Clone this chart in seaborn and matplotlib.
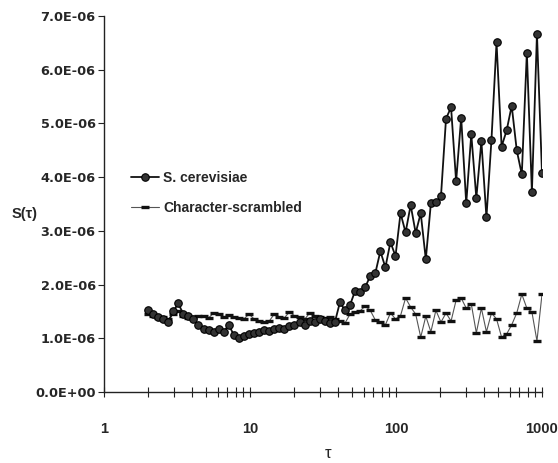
import matplotlib
matplotlib.use("Agg")
import matplotlib.pyplot as plt
import numpy as np
import pandas as pd
import seaborn as sns
from matplotlib.ticker import FixedLocator, FuncFormatter, NullFormatter

# ---------------- data ----------------
tau = [2.000, 2.166, 2.346, 2.540, 2.751, 2.979, 3.226, 3.494, 3.784, 4.098,
       4.437, 4.805, 5.204, 5.636, 6.103, 6.609, 7.157, 7.751, 8.394, 9.090,
       9.842, 10.66, 11.54, 12.50, 13.54, 14.66, 15.88, 17.19, 18.62, 20.16,
       21.83, 23.64, 25.60, 27.73, 30.03, 32.52, 35.21, 38.13, 41.30, 44.72,
       48.43, 52.45, 56.80, 61.51, 66.61, 72.14, 78.12, 84.60, 91.61, 99.21,
       107.4, 116.3, 126.0, 136.4, 147.7, 160.0, 173.3, 187.6, 203.2, 220.1,
       238.3, 258.1, 279.5, 302.7, 327.8, 355.0, 384.4, 416.3, 450.8, 488.2,
       528.7, 572.6, 620.1, 671.5, 727.2, 787.5, 852.8, 923.5, 1000.0]

# values in units of 1e-6
s_cerevisiae = [1.52, 1.45, 1.40, 1.36, 1.30, 1.50, 1.65, 1.45, 1.42, 1.35,
                1.25, 1.18, 1.15, 1.12, 1.18, 1.12, 1.25, 1.06, 1.00, 1.05,
                1.08, 1.10, 1.12, 1.15, 1.13, 1.18, 1.20, 1.17, 1.22, 1.25,
                1.30, 1.25, 1.33, 1.30, 1.35, 1.33, 1.28,
                1.30, 1.67, 1.52, 1.62, 1.88, 1.86, 1.95, 2.16, 2.21, 2.62,
                2.32, 2.79, 2.53, 3.33, 2.97, 3.48, 2.96, 3.33, 2.47, 3.51,
                3.53, 3.64, 5.09, 5.30, 3.92, 5.11, 3.51, 4.80, 3.61, 4.67,
                3.25, 4.70, 6.51, 4.57, 4.87, 5.33, 4.50, 4.05, 6.32, 3.72,
                6.67, 4.07]

scrambled = [1.45, 1.42, 1.38, 1.40, 1.35, 1.45, 1.50, 1.42, 1.38, 1.40,
             1.42, 1.41, 1.38, 1.47, 1.45, 1.40, 1.43, 1.40, 1.38, 1.36,
             1.45, 1.36, 1.33, 1.30, 1.32, 1.45, 1.40, 1.38, 1.49, 1.42,
             1.39, 1.35, 1.47, 1.42, 1.39, 1.38, 1.39, 1.36, 1.32,
             1.28, 1.45, 1.49, 1.51, 1.60, 1.52, 1.34, 1.30, 1.25, 1.47,
             1.36, 1.42, 1.75, 1.58, 1.45, 1.02, 1.41, 1.12, 1.52, 1.30,
             1.47, 1.32, 1.71, 1.75, 1.56, 1.64, 1.10, 1.56, 1.12, 1.47,
             1.36, 1.02, 1.08, 1.25, 1.47, 1.82, 1.56, 1.49, 0.95, 1.82]

series_names = ["S. cerevisiae", "Character-scrambled"]
y_ticks = [0.0, 1e-6, 2e-6, 3e-6, 4e-6, 5e-6, 6e-6, 7e-6]
x_major = [1, 10, 100, 1000]
x_labels = ["1", "10", "100", "1000"]

df_s = pd.DataFrame({"tau": tau, "S": [v * 1e-6 for v in s_cerevisiae]})
df_c = pd.DataFrame({"tau": tau, "S": [v * 1e-6 for v in scrambled]})

# ---------------- style ----------------
sns.set_style("white")
plt.rcParams["font.family"] = ["Liberation Sans", "DejaVu Sans"]

fig = plt.figure(figsize=(5.58, 4.63), dpi=100)
ax = fig.add_axes([104 / 558, 71 / 463, 438 / 558, 376 / 463])

sns.lineplot(data=df_c, x="tau", y="S", ax=ax, color="#555555", linewidth=0.8,
             marker="_", markersize=5.5, markeredgewidth=2.4,
             markeredgecolor="#111111", label=series_names[1], zorder=2)
sns.lineplot(data=df_s, x="tau", y="S", ax=ax, color="#111111", linewidth=1.3,
             marker="o", markersize=5.4, markerfacecolor="#333333",
             markeredgecolor="#000000", markeredgewidth=0.8,
             label=series_names[0], zorder=3)

ax.set_xscale("log")
ax.set_xlim(1, 1000)
ax.set_ylim(0, 7e-6)

ax.xaxis.set_major_locator(FixedLocator(x_major))
ax.xaxis.set_major_formatter(FuncFormatter(lambda v, p: x_labels[x_major.index(round(v))] if round(v) in x_major else ""))
minor = [m * d for d in (1, 10, 100) for m in range(2, 10)]
ax.xaxis.set_minor_locator(FixedLocator(minor))
ax.xaxis.set_minor_formatter(NullFormatter())

ax.yaxis.set_major_locator(FixedLocator(y_ticks))
ax.yaxis.set_major_formatter(FuncFormatter(lambda v, p: f"{v:.1E}"))

for s in ("top", "right"):
    ax.spines[s].set_visible(False)
for s in ("left", "bottom"):
    ax.spines[s].set_color("#222222")
    ax.spines[s].set_linewidth(1.0)

ax.tick_params(axis="x", which="both", direction="inout", length=7, width=0.8,
               color="#222222", bottom=True, pad=18)
ax.tick_params(axis="y", which="major", direction="out", length=4, width=0.8,
               color="#222222", left=True, pad=2)
for lab in ax.get_xticklabels():
    lab.set_fontsize(10.5)
    lab.set_fontweight("bold")
for lab in ax.get_yticklabels():
    lab.set_fontsize(9.3)
    lab.set_fontweight("bold")
    lab.set_family(["DejaVu Sans"])

ax.set_xlabel("")
ax.set_ylabel("")
fig.text(328 / 558, 1 - 454 / 463, "τ", ha="center", va="center", fontsize=12)
fig.text(25 / 558, 1 - 214 / 463, "S(τ)", ha="center", va="center", fontsize=10.5,
         fontweight="bold")

handles, labels = ax.get_legend_handles_labels()
order = [labels.index(series_names[0]), labels.index(series_names[1])]
leg = ax.legend([handles[i] for i in order], [labels[i] for i in order],
                loc="center left", bbox_to_anchor=(0.062, 0.53), frameon=False,
                handlelength=2.0, handletextpad=0.3, labelspacing=1.15,
                borderpad=0, borderaxespad=0,
                prop={"family": "Liberation Sans", "weight": "bold", "size": 10})

fig.savefig("out.png", dpi=100)
